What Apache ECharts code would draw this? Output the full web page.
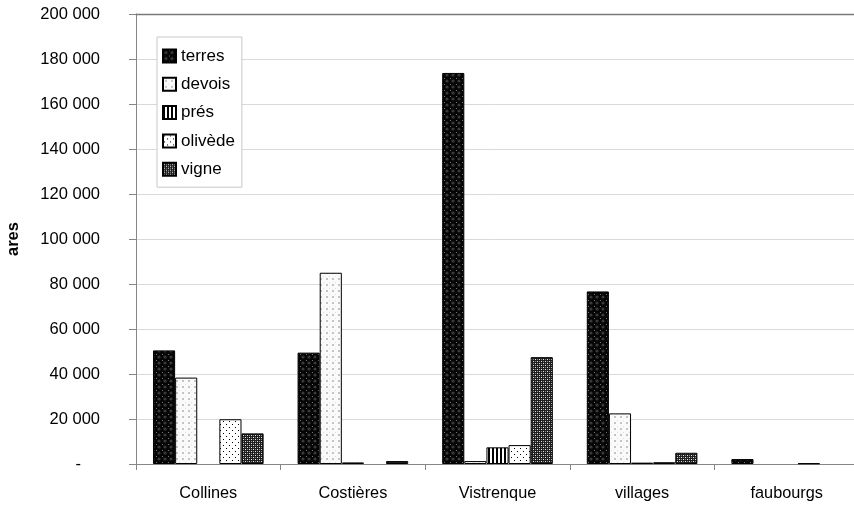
<!DOCTYPE html>
<html>
<head>
<meta charset="utf-8">
<script src="https://cdn.jsdelivr.net/npm/echarts@6/dist/echarts.min.js"></script>
<style>html,body{margin:0;padding:0;background:#fff}#c{width:854px;height:508px}</style>
</head>
<body>
<div id="c"></div>
<script>
const categories = ['Collines', 'Costières', 'Vistrenque', 'villages', 'faubourgs'];
const seriesNames = ['terres', 'devois', 'prés', 'olivède', 'vigne'];
const terres  = [50500, 49500, 173800, 76700, 2200];
const devois  = [38400, 85000, 1300, 22500, 0];
const pres    = [0, 700, 7400, 600, 0];
const olivede = [19900, 0, 8400, 800, 300];
const vigne   = [13600, 1300, 47500, 5000, 0];
const yMin = 0, yMax = 200000, yStep = 20000;

function tile(w, h, draw) {
  const c = document.createElement('canvas');
  c.width = w; c.height = h;
  const g = c.getContext('2d');
  draw(g);
  return { image: c, repeat: 'repeat' };
}
const patTerres = tile(6, 6, g => {
  g.fillStyle = '#050505'; g.fillRect(0, 0, 6, 6);
  g.fillStyle = '#3a3a3a'; g.beginPath(); g.arc(3, 3, 1.6, 0, Math.PI * 2); g.fill();
  g.fillStyle = '#777'; g.fillRect(0, 0, 1, 1);
});
const patDevois = tile(6, 6, g => {
  g.fillStyle = '#fafafa'; g.fillRect(0, 0, 6, 6);
  g.fillStyle = '#c4c4c4'; g.fillRect(2, 2, 2, 2);
  g.fillStyle = '#e0e0e0'; g.fillRect(5, 0, 1, 1);
});
const patPres = tile(4, 4, g => {
  g.fillStyle = '#fff'; g.fillRect(0, 0, 4, 4);
  g.fillStyle = '#000'; g.fillRect(0, 0, 2, 4);
});
const patOlivede = tile(6, 6, g => {
  g.fillStyle = '#fff'; g.fillRect(0, 0, 6, 6);
  g.fillStyle = '#000'; g.fillRect(1, 1, 1, 1); g.fillRect(4, 4, 1, 1);
});
const patVigne = tile(4, 4, g => {
  g.fillStyle = '#1e1e1e'; g.fillRect(0, 0, 4, 4);
  g.fillStyle = '#e6e6e6';
  g.fillRect(1, 1, 1, 1); g.fillRect(3, 3, 1, 1);
  g.fillStyle = '#8a8a8a';
  g.fillRect(3, 1, 1, 1); g.fillRect(1, 3, 1, 1);
});

const patterns = [patTerres, patDevois, patPres, patOlivede, patVigne];
const values = [terres, devois, pres, olivede, vigne];
const FONT = "'Liberation Sans', Arial, sans-serif";

function fmt(v) {
  if (v === 0) return '{z|-}';
  return String(v).replace(/\B(?=(\d{3})+(?!\d))/g, ' ');
}

const chart = echarts.init(document.getElementById('c'), null, { renderer: 'canvas' });
chart.setOption({
  animation: false,
  backgroundColor: '#fff',
  textStyle: { fontFamily: FONT },
  grid: { left: 136, top: 14, right: -5, bottom: 44, show: false, containLabel: false, outerBoundsMode: 'none' },
  legend: {
    orient: 'vertical', left: 157, top: 37,
    padding: [10, 7, 9, 5],
    backgroundColor: '#fff', borderColor: '#c8c8c8', borderWidth: 1,
    icon: 'rect',
    itemWidth: 13, itemHeight: 13, itemGap: 10.3,
    textStyle: { fontFamily: FONT, fontSize: 17, color: '#000', lineHeight: 18 },
    data: seriesNames
  },
  xAxis: [{
    type: 'category', data: categories,
    axisLine: { lineStyle: { color: '#868686', width: 1 } },
    axisTick: { show: true, length: 6, lineStyle: { color: '#868686' } },
    axisLabel: { margin: 22, fontFamily: FONT, fontSize: 16.3, color: '#000' }
  }, {
    type: 'category', data: categories, position: 'top',
    axisLine: { show: true, lineStyle: { color: '#7a7a7a', width: 1.3 } },
    axisTick: { show: false }, axisLabel: { show: false }, splitLine: { show: false }
  }],
  yAxis: {
    type: 'value', min: yMin, max: yMax, interval: yStep,
    name: 'ares', nameLocation: 'middle', nameRotate: 90, nameGap: 114,
    nameTextStyle: { fontFamily: FONT, fontSize: 16.5, fontWeight: 'bold', color: '#000' },
    axisLine: { show: true, lineStyle: { color: '#868686', width: 1 } },
    axisTick: { show: true, length: 7, lineStyle: { color: '#868686' } },
    splitLine: { lineStyle: { color: '#d9d9d9', width: 1 } },
    axisLabel: {
      margin: 36, fontFamily: FONT, fontSize: 16.5, color: '#000', formatter: fmt,
      rich: { z: { fontFamily: FONT, fontSize: 16.5, color: '#000', padding: [0, 19, 0, 0] } }
    }
  },
  series: seriesNames.map((n, i) => ({
    name: n, type: 'bar', data: values[i].map(v => (v === 0 ? '-' : v)),
    barGap: 0, barCategoryGap: '23.5%',
    itemStyle: { color: patterns[i], borderColor: '#000', borderWidth: 1 },
    emphasis: { disabled: true }
  }))
});
</script>
</body>
</html>
